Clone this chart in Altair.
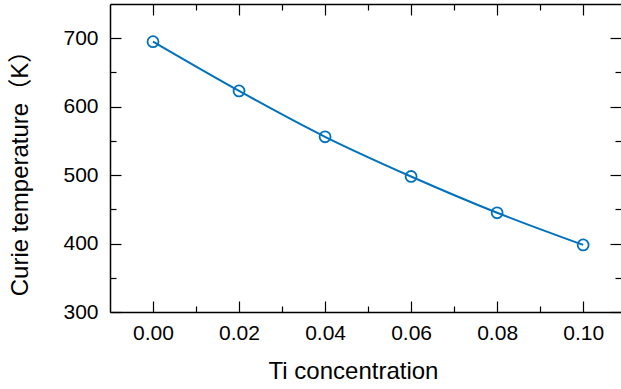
import altair as alt
import pandas as pd

ti = [0.00, 0.02, 0.04, 0.06, 0.08, 0.10]
tc = [695, 623, 556, 498, 445, 398]
x_major = [0.00, 0.02, 0.04, 0.06, 0.08, 0.10]
x_minor = [0.01, 0.03, 0.05, 0.07, 0.09]
y_major = [300, 400, 500, 600, 700]
y_minor = [350, 450, 550, 650]

df = pd.DataFrame({"Ti": ti, "Tc": tc})

FONT = "Liberation Sans, Noto Sans CJK SC"
BLUE = "#0072BD"
xs = alt.Scale(domain=[-0.01, 0.1088], nice=False, zero=False)
ys = alt.Scale(domain=[300, 750], nice=False, zero=False)

MAJ = 11
MIN = 6


def tick_axis(orient, values, size):
    return alt.Axis(orient=orient, values=values, labels=False, domain=False,
                    ticks=True, tickSize=size, offset=-size, tickColor="black",
                    tickWidth=1.2, grid=False)


def lay(xaxis, yaxis):
    return alt.Chart(df).mark_point(opacity=0).encode(
        x=alt.X("Ti:Q", scale=xs, axis=xaxis, title=None),
        y=alt.Y("Tc:Q", scale=ys, axis=yaxis, title=None),
    )


bottom_main = alt.Axis(orient="bottom", values=x_major, format=".2f", ticks=False,
                       domain=True, domainColor="black", domainWidth=1.5, grid=False,
                       labelFont=FONT, labelFontSize=21, labelColor="black", labelPadding=10,
                       title="Ti concentration", titleFont=FONT, titleFontSize=24,
                       titleFontWeight="normal", titleColor="black", titlePadding=16,
                       titleX=243)
left_main = alt.Axis(orient="left", values=y_major, format="d", ticks=False,
                     domain=True, domainColor="black", domainWidth=1.5, grid=False,
                     labelFont=FONT, labelFontSize=21, labelColor="black", labelPadding=12,
                     title="Curie temperature（K）", titleFont=FONT, titleFontSize=24,
                     titleFontWeight="normal", titleColor="black", titlePadding=30,
                     titleY=163)
top_dom = alt.Axis(orient="top", values=x_major, labels=False, ticks=False, domain=True,
                   domainColor="black", domainWidth=1.5, grid=False)

line = alt.Chart(df).mark_line(color=BLUE, strokeWidth=2, interpolate="monotone").encode(
    x=alt.X("Ti:Q", scale=xs, axis=bottom_main),
    y=alt.Y("Tc:Q", scale=ys, axis=left_main),
)
pts = alt.Chart(df).mark_point(color=BLUE, filled=False, size=120, strokeWidth=1.8, opacity=1).encode(
    x=alt.X("Ti:Q", scale=xs, axis=None),
    y=alt.Y("Tc:Q", scale=ys, axis=None),
)

chart = alt.layer(
    line,
    pts,
    lay(tick_axis("bottom", x_major, MAJ), tick_axis("left", y_major, MAJ)),
    lay(tick_axis("bottom", x_minor, MIN), tick_axis("left", y_minor, MIN)),
    lay(tick_axis("top", x_major, MAJ), tick_axis("right", y_major, MAJ)),
    lay(tick_axis("top", x_minor, MIN), tick_axis("right", y_minor, MIN)),
    lay(top_dom, None),
).resolve_axis(x="independent", y="independent").properties(
    width=511, height=308,
    autosize=alt.AutoSizeParams(type="none"),
    padding={"left": 110, "top": 4, "right": 0, "bottom": 77},
).configure_view(stroke=None).configure(background="white")

chart.save("out.html", embed_options={"renderer": "svg", "actions": False})
